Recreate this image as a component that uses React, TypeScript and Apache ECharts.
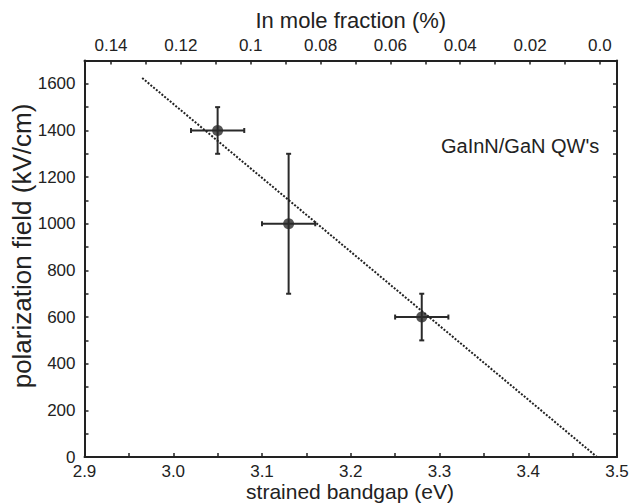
import React, { useEffect, useRef } from "react";
import * as echarts from "echarts";

// Data
const bandgap = [3.05, 3.13, 3.28]; // eV
const field = [1400, 1000, 600]; // kV/cm
const bandgapErr = [0.03, 0.03, 0.03];
const fieldErr = [100, 300, 100];
const fitX = [2.965, 3.4775];
const fitY = [1625, 0];
const topLabelValues = [0, 0.02, 0.04, 0.06, 0.08, 0.1, 0.12, 0.14];
const topTickValues = [0, 0.01, 0.02, 0.03, 0.04, 0.05, 0.06, 0.07, 0.08, 0.09, 0.1, 0.11, 0.12, 0.13, 0.14];
const annotation = "GaInN/GaN QW's";
const yTitle = "polarization field (kV/cm)";
const xTitle = "strained bandgap (eV)";

const FONT = "Liberation Sans, Arial, Helvetica, sans-serif";
const INK = "#222";

export default function App() {
  const ref = useRef<HTMLDivElement>(null);
  useEffect(() => {
    if (!ref.current) return;
    const chart = echarts.init(ref.current, undefined, { renderer: "svg" });
    const axisLine = { show: true, onZero: false, lineStyle: { color: INK, width: 2 } };
    const tick = { show: true, inside: true, length: 4, lineStyle: { color: INK, width: 1.5 } };
    const option: any = {
      animation: false,
      backgroundColor: "#fff",
      grid: { left: 84.5, right: 13, top: 60.5, bottom: 46, containLabel: false, outerBoundsMode: "none" },
      textStyle: { fontFamily: FONT },
      xAxis: [
        {
          type: "value",
          position: "bottom",
          min: 2.9,
          max: 3.5,
          interval: 0.05,
          axisLine,
          axisTick: tick,
          splitLine: { show: false },
          axisLabel: {
            color: INK,
            fontSize: 17,
            lineHeight: 17,
            fontFamily: FONT,
            margin: 6,
            formatter: (v: number) => (Math.round(v * 100) % 10 === 0 ? v.toFixed(1) : ""),
          },
        },
        {
          type: "value",
          position: "top",
          min: -0.0049,
          max: 0.1476,
          inverse: true,
          axisLine,
          axisTick: { ...tick, customValues: topTickValues },
          splitLine: { show: false },
          axisLabel: {
            color: INK,
            fontSize: 17,
            fontFamily: FONT,
            margin: 7,
            customValues: topLabelValues,
            formatter: (v: number) => (Math.abs(v) < 1e-9 ? "0.0" : String(parseFloat(v.toFixed(2)))),
          },
          name: "In mole fraction (%)",
          nameLocation: "middle",
          nameGap: 28,
          nameTextStyle: { color: INK, fontSize: 22, fontFamily: FONT },
        },
      ],
      yAxis: [
        {
          type: "value",
          position: "left",
          min: 0,
          max: 1700,
          interval: 100,
          axisLine,
          axisTick: tick,
          splitLine: { show: false },
          axisLabel: {
            color: INK,
            fontSize: 17,
            fontFamily: FONT,
            margin: 9,
            formatter: (v: number) => (v % 200 === 0 && v <= 1600 ? String(v) : ""),
          },
        },
        {
          type: "value",
          position: "right",
          min: 0,
          max: 1700,
          interval: 100,
          axisLine,
          axisTick: tick,
          splitLine: { show: false },
          axisLabel: { show: false },
        },
      ],
      graphic: [
        {
          type: "text",
          left: 441,
          top: 136,
          style: { text: annotation, fill: INK, font: `20px ${FONT}` },
        },
        {
          type: "text",
          x: 22,
          y: 246,
          rotation: Math.PI / 2,
          style: {
            text: yTitle,
            fill: INK,
            font: `26px ${FONT}`,
            textAlign: "center",
            textVerticalAlign: "middle",
          },
        },
        {
          type: "text",
          x: 350,
          y: 491.5,
          style: {
            text: xTitle,
            fill: INK,
            font: `21px ${FONT}`,
            lineHeight: 21,
            textAlign: "center",
            textVerticalAlign: "middle",
          },
        },
      ],
      series: [
        {
          type: "line",
          xAxisIndex: 0,
          yAxisIndex: 0,
          data: fitX.map((x, i) => [x, fitY[i]]),
          symbol: "none",
          lineStyle: { color: INK, width: 2, type: [2, 1.6] },
          silent: true,
        },
        {
          type: "custom",
          xAxisIndex: 0,
          yAxisIndex: 0,
          data: bandgap.map((x, i) => [x, field[i], bandgapErr[i], fieldErr[i]]),
          renderItem: (params: any, api: any) => {
            const x = api.value(0);
            const y = api.value(1);
            const ex = api.value(2);
            const ey = api.value(3);
            const pL = api.coord([x - ex, y]);
            const pR = api.coord([x + ex, y]);
            const pT = api.coord([x, y + ey]);
            const pB = api.coord([x, y - ey]);
            const st = { stroke: "#2a2a2a", lineWidth: 2 };
            const cap = 2.5;
            return {
              type: "group",
              children: [
                { type: "line", shape: { x1: pL[0], y1: pL[1], x2: pR[0], y2: pR[1] }, style: st },
                { type: "line", shape: { x1: pT[0], y1: pT[1], x2: pB[0], y2: pB[1] }, style: st },
                { type: "line", shape: { x1: pL[0], y1: pL[1] - cap, x2: pL[0], y2: pL[1] + cap }, style: st },
                { type: "line", shape: { x1: pR[0], y1: pR[1] - cap, x2: pR[0], y2: pR[1] + cap }, style: st },
                { type: "line", shape: { x1: pT[0] - cap, y1: pT[1], x2: pT[0] + cap, y2: pT[1] }, style: st },
                { type: "line", shape: { x1: pB[0] - cap, y1: pB[1], x2: pB[0] + cap, y2: pB[1] }, style: st },
              ],
            };
          },
          z: 3,
        },
        {
          type: "scatter",
          xAxisIndex: 0,
          yAxisIndex: 0,
          data: bandgap.map((x, i) => [x, field[i]]),
          symbol: "circle",
          symbolSize: 11,
          itemStyle: { color: "#2a2a2a" },
          z: 4,
        },
      ],
    };
    chart.setOption(option);
    return () => chart.dispose();
  }, []);
  return (
    <div
      ref={ref}
      style={{ position: "fixed", left: 0, top: 0, width: 630, height: 503, background: "#fff" }}
    />
  );
}
